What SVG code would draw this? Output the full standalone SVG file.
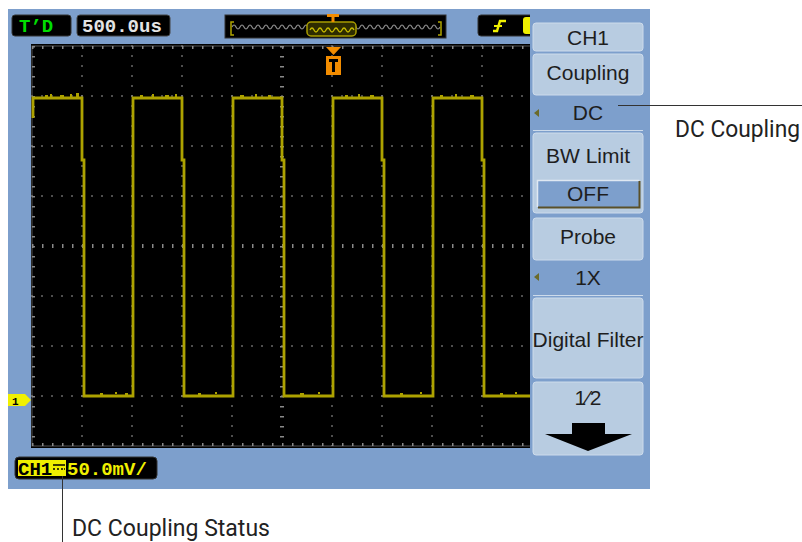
<svg xmlns="http://www.w3.org/2000/svg" width="802" height="542" viewBox="0 0 802 542">
<defs>
<style>
.btn{fill:#b8cce1;stroke:#cddbeb;stroke-width:1}
.mt{font-family:"Liberation Sans",Arial,sans-serif;font-size:21px;fill:#1e1e1e;text-anchor:middle}
.ann{font-family:Roboto,"Liberation Sans",sans-serif;font-size:23px;fill:#222}
.dot{stroke:#8a8a8a;stroke-width:1.5;stroke-dasharray:1.5 8.5}
.tr{fill:none;stroke:#ada200;stroke-width:2.8}
.mono{font-family:"Liberation Mono","DejaVu Sans Mono",monospace;font-weight:bold;font-size:19px}
.lead{stroke:#333;stroke-width:1;fill:none}
</style>
</defs>
<rect x="0" y="0" width="802" height="542" fill="#ffffff"/>
<rect x="8" y="9" width="642" height="480" fill="#7d9fcc"/>

<g id="screen">
<rect x="31" y="44" width="501" height="404" fill="#000"/>
<rect x="32" y="46" width="500" height="400" fill="none" stroke="#555" stroke-width="1"/>
<g id="grid">
<line class="dot" x1="31.25" y1="96" x2="532" y2="96"/>
<line class="dot" x1="31.25" y1="146" x2="532" y2="146"/>
<line class="dot" x1="31.25" y1="196" x2="532" y2="196"/>
<line class="dot" x1="31.25" y1="296" x2="532" y2="296"/>
<line class="dot" x1="31.25" y1="346" x2="532" y2="346"/>
<line class="dot" x1="31.25" y1="396" x2="532" y2="396"/>
<line class="dot" x1="82" y1="45.25" x2="82" y2="446"/>
<line class="dot" x1="132" y1="45.25" x2="132" y2="446"/>
<line class="dot" x1="182" y1="45.25" x2="182" y2="446"/>
<line class="dot" x1="232" y1="45.25" x2="232" y2="446"/>
<line class="dot" x1="332" y1="45.25" x2="332" y2="446"/>
<line class="dot" x1="382" y1="45.25" x2="382" y2="446"/>
<line class="dot" x1="432" y1="45.25" x2="432" y2="446"/>
<line class="dot" x1="482" y1="45.25" x2="482" y2="446"/>
<line x1="32" y1="246" x2="532" y2="246" stroke="#8a8a8a" stroke-width="4" stroke-dasharray="1.5 8.5"/>
<line x1="282" y1="46" x2="282" y2="446" stroke="#8a8a8a" stroke-width="4" stroke-dasharray="1.5 8.5"/>
<line x1="32" y1="47.5" x2="532" y2="47.5" stroke="#8a8a8a" stroke-width="3" stroke-dasharray="1.5 8.5"/>
<line x1="32" y1="444.5" x2="532" y2="444.5" stroke="#8a8a8a" stroke-width="3" stroke-dasharray="1.5 8.5"/>
<line x1="33.5" y1="46" x2="33.5" y2="446" stroke="#8a8a8a" stroke-width="3" stroke-dasharray="1.5 8.5"/>
</g>
<g id="trace">
<path class="tr" d="M33,118 V98 H82 V160 H84 V396 H133 V98 H182 V160 H184 V396 H233 V98 H282 V160 H284 V396 H333 V98 H382 V160 H384 V396 H433 V98 H482 V160 H484 V396 H530"/>
<path fill="#ada200" d="M45,95h3v2h-3z M50,94h2v3h-2z M60,95h4v2h-4z M70,94h2v3h-2z M76,93h3v4h-3z M140,95h3v2h-3z M152,94h2v3h-2z M165,95h4v2h-4z M175,94h2v3h-2z M240,95h4v2h-4z M255,94h2v3h-2z M268,95h3v2h-3z M345,95h3v2h-3z M358,94h2v3h-2z M370,95h4v2h-4z M440,95h3v2h-3z M455,94h2v3h-2z M470,95h4v2h-4z M100,395h3v-2h-3z M115,394h2v-2h-2z M125,395h3v-2h-3z M198,395h3v-2h-3z M215,394h2v-2h-2z M300,395h4v-2h-4z M318,394h2v-2h-2z M400,395h3v-2h-3z M420,394h2v-2h-2z M500,395h3v-2h-3z M515,394h2v-2h-2z"/>
</g>
</g>

<g id="trig-marker">
<path d="M326,47 H341 L333.5,55 Z" fill="#f28c00"/>
<rect x="326" y="56" width="15" height="19" fill="#f28c00"/>
<path d="M329,59 H338 V62 H335 V72 H332 V62 H329 Z" fill="#000"/>
</g>

<g id="ch-marker">
<path d="M8,394 H25 L31,400 L25,406 H8 Z" fill="#f0f000"/>
<text x="12" y="405" font-family="'Liberation Mono',monospace" font-weight="bold" font-size="11" fill="#000">1</text>
</g>

<g id="topbar">
<g id="td">
<rect x="12" y="15" width="59" height="21" rx="3" fill="#000" stroke="#333"/>
<text x="19" y="32" class="mono" font-weight="normal" fill="#00dd00">T’D</text>
</g>
<g id="timebase">
<rect x="77" y="15" width="93" height="21" rx="3" fill="#000" stroke="#444"/>
<text x="82" y="32" class="mono" fill="#e4e4e4">500.0us</text>
</g>
<g id="memory">
<rect x="225" y="15" width="221" height="23" fill="#000" stroke="#333"/>
<path d="M232,27 q2,-4 4,0 t4,0 t4,0 t4,0 t4,0 t4,0 t4,0 t4,0 t4,0 t4,0 t4,0 t4,0 t4,0 t4,0 t4,0 t4,0 t4,0 t4,0 t4,0 t4,0 t4,0 t4,0 t4,0 t4,0 t4,0 t4,0 t4,0 t4,0 t4,0 t4,0 t4,0 t4,0 t4,0 t4,0 t4,0 t4,0 t4,0 t4,0 t4,0 t4,0 t4,0 t4,0 t4,0 t4,0 t4,0 t4,0 t4,0 t4,0 t4,0 t4,0 t4,0 t4,0" fill="none" stroke="#8c8c8c" stroke-width="1.2"/>
<rect x="307" y="22" width="49" height="14" rx="4" fill="#2e2c00" stroke="#a89c00" stroke-width="1.5"/>
<path d="M310,30 q2,-4 4,0 t4,0 t4,0 t4,0 t4,0 t4,0 t4,0 t4,0 t4,0 t4,0 t4,0" fill="none" stroke="#c8bc00" stroke-width="1.3"/>
<path d="M234,22 H231 V35 H234" fill="none" stroke="#b0a500" stroke-width="1.5"/>
<path d="M438,22 H441 V35 H438" fill="none" stroke="#b0a500" stroke-width="1.5"/>
<path d="M327,15.5 H339 M333,15.5 V22" stroke="#f28c00" stroke-width="3"/>
</g>
<g id="trigger">
<rect x="478" y="15" width="57" height="21" rx="3" fill="#000" stroke="#333"/>
<path d="M493,31 H497 L500,21 H506" fill="none" stroke="#f0f000" stroke-width="2.5"/>
<path d="M494,26 H502" stroke="#f0f000" stroke-width="2"/>
<rect x="523" y="17" width="10" height="17" rx="3" fill="#f0f000"/>
</g>
</g>

<g id="menu">
<rect x="530" y="9" width="120" height="480" fill="#7d9fcc"/>
<g id="btn-ch1"><rect class="btn" x="533" y="23" width="110" height="28" rx="3"/><text class="mt" x="588" y="45">CH1</text></g>
<g id="btn-coupling"><rect class="btn" x="533" y="54" width="110" height="41" rx="3"/><text class="mt" x="588" y="80">Coupling</text></g>
<g id="val-dc"><path d="M534,113 L539,109 V117 Z" fill="#6b6a2a"/><text class="mt" x="588" y="120">DC</text><line x1="533" y1="130.5" x2="643" y2="130.5" stroke="#cddbeb"/></g>
<g id="btn-bw"><rect class="btn" x="533" y="133" width="110" height="80" rx="3"/><text class="mt" x="588" y="163">BW Limit</text>
<rect x="537" y="180" width="103" height="28" rx="2" fill="#7d9fcc"/>
<path d="M537.5,207 V180.5 H639.5" fill="none" stroke="#dfe8f2" stroke-width="1.5"/>
<path d="M538,207.5 H639.5 V181" fill="none" stroke="#5a5028" stroke-width="2"/>
<text class="mt" x="588" y="201">OFF</text></g>
<g id="btn-probe"><rect class="btn" x="533" y="218" width="110" height="42" rx="3"/><text class="mt" x="588" y="244">Probe</text></g>
<g id="val-1x"><path d="M534,277 L539,273 V281 Z" fill="#6b6a2a"/><text class="mt" x="588" y="285">1X</text><line x1="533" y1="295.5" x2="643" y2="295.5" stroke="#cddbeb"/></g>
<g id="btn-filter"><rect class="btn" x="533" y="298" width="110" height="80" rx="3"/><text class="mt" x="588" y="347">Digital Filter</text></g>
<g id="btn-page"><rect class="btn" x="533" y="382" width="110" height="73" rx="3"/><text class="mt" x="588" y="405" font-size="18">1⁄2</text>
<path d="M572,423 H605 V434 H632 L588,451 L545,434 H572 Z" fill="#000"/></g>
</g>

<g id="status">
<rect x="15" y="457" width="142" height="22" rx="4" fill="#000" stroke="#333"/>
<rect x="18" y="460" width="48" height="16" fill="#f0f000"/>
<text x="18" y="475" class="mono" font-size="18" fill="#000">CH1</text>
<path d="M53,465 H65 M53,469 H55 M57,469 H59 M61,469 H63 M64,469 H65" stroke="#000" stroke-width="1.5"/>
<text x="67" y="475" class="mono" font-size="19.5" fill="#f0f000">50.0mV/</text>
</g>

<g id="connectors">
<line class="lead" x1="618" y1="105.5" x2="802" y2="105.5"/>
<line class="lead" x1="62.5" y1="476" x2="62.5" y2="542"/>
</g>
<g id="labels">
<text class="ann" x="675" y="137" textLength="125" lengthAdjust="spacingAndGlyphs">DC Coupling</text>
<text class="ann" x="72" y="536" textLength="198" lengthAdjust="spacingAndGlyphs">DC Coupling Status</text>
</g>
</svg>
